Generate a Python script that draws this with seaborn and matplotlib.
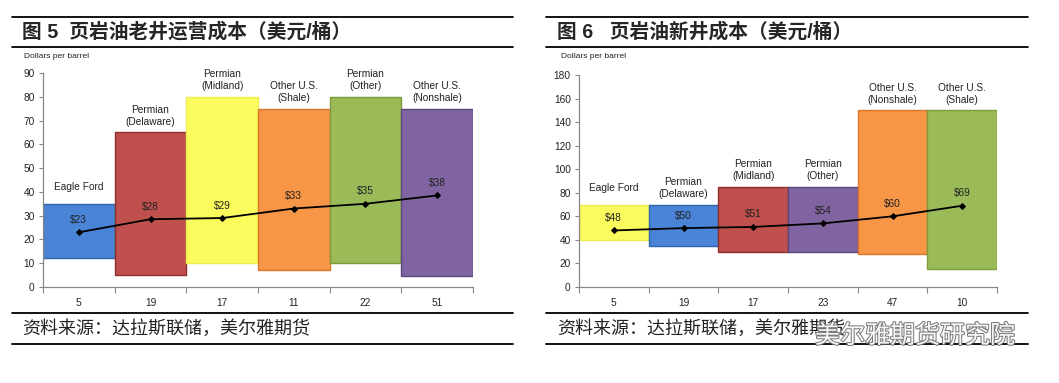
import matplotlib
matplotlib.use("Agg")
import matplotlib.pyplot as plt
import seaborn as sns
import pandas as pd
import numpy as np
from matplotlib.lines import Line2D
import matplotlib.patheffects as pe

# ---------------- data ----------------
left_title = "图 5  页岩油老井运营成本（美元/桶）"
left_names = ["Eagle Ford", "Permian\n(Delaware)", "Permian\n(Midland)",
              "Other U.S.\n(Shale)", "Permian\n(Other)", "Other U.S.\n(Nonshale)"]
left_low = [12, 5, 10, 7, 10, 4.5]
left_high = [35, 65, 80, 75, 80, 75]
left_avg = [23, 28.5, 29, 33, 35, 38.5]
left_avg_labels = ["$23", "$28", "$29", "$33", "$35", "$38"]
left_counts = ["5", "19", "17", "11", "22", "51"]

right_title = "图 6   页岩油新井成本（美元/桶）"
right_names = ["Eagle Ford", "Permian\n(Delaware)", "Permian\n(Midland)",
               "Permian\n(Other)", "Other U.S.\n(Nonshale)", "Other U.S.\n(Shale)"]
right_low = [40, 35, 30, 30, 28, 15]
right_high = [70, 70, 85, 85, 150, 150]
right_avg = [48, 50, 51, 54, 60, 69]
right_avg_labels = ["$48", "$50", "$51", "$54", "$60", "$69"]
right_counts = ["5", "19", "17", "23", "47", "10"]

source_text = "资料来源：达拉斯联储，美尔雅期货"
watermark_text = "美尔雅期货研究院"
unit_text = "Dollars per barrel"

# ---------------- style ----------------
BLUE, BLUE_E = "#4A84D6", "#2F64AE"
RED, RED_E = "#C0504D", "#8E2F2C"
YEL, YEL_E = "#FBFB5E", "#EDED50"
ORA, ORA_E = "#F79646", "#D9762C"
GRN, GRN_E = "#9BBB59", "#7C9C3C"
PUR, PUR_E = "#8064A2", "#5C4580"

left_colors = [BLUE, RED, YEL, ORA, GRN, PUR]
left_edges = [BLUE_E, RED_E, YEL_E, ORA_E, GRN_E, PUR_E]
right_colors = [YEL, BLUE, RED, PUR, ORA, GRN]
right_edges = [YEL_E, BLUE_E, RED_E, PUR_E, ORA_E, GRN_E]

sns.set_theme(style="white")
NARROW = ["Liberation Sans Narrow", "Liberation Sans", "DejaVu Sans"]
plt.rcParams["font.family"] = NARROW
plt.rcParams["axes.unicode_minus"] = False

W, H = 1059, 383
fig = plt.figure(figsize=(W / 100, H / 100), dpi=100)
fig.patch.set_facecolor("white")


def fx(px):
    return px / W


def fy(py):
    return 1 - py / H


def hrule(x0, x1, y):
    fig.add_artist(Line2D([fx(x0), fx(x1)], [fy(y), fy(y)], color="black", lw=1.3))


def draw(ax, names, low, high, avg, avg_labels, counts, colors, edges, ymax, ystep):
    n = len(names)
    df = pd.DataFrame({"pos": np.arange(n) + 0.5, "low": low, "high": high, "avg": avg})
    ax.bar(df["pos"], df["high"] - df["low"], bottom=df["low"], width=1.0,
           color=colors, edgecolor=edges, linewidth=1.0, zorder=2)
    sns.lineplot(data=df, x="pos", y="avg", ax=ax, color="black", linewidth=1.3,
                 marker="D", markersize=3.0, markeredgecolor="black", zorder=4)
    for p, h, name in zip(df["pos"], df["high"], names):
        ax.annotate(name, (p, h), xytext=(0, 12), textcoords="offset points",
                    ha="center", va="center", fontsize=7.3, linespacing=1.25,
                    color="#222222", zorder=5)
    for p, a, lab in zip(df["pos"], df["avg"], avg_labels):
        ax.annotate(lab, (p, a), xytext=(0, 9), textcoords="offset points",
                    ha="center", va="center", fontsize=7.3, color="#222222", zorder=5)
    ax.set_xlim(0, n)
    ax.set_ylim(0, ymax)
    ax.set_yticks(np.arange(0, ymax + 1, ystep))
    ax.set_xticks(np.arange(0, n + 1))
    ax.set_xticklabels([""] * (n + 1))
    ax.set_xticks(df["pos"], minor=True)
    ax.set_xticklabels(counts, minor=True)
    ax.tick_params(axis="x", which="major", direction="out", length=4, width=0.8,
                   color="#888888", bottom=True)
    ax.tick_params(axis="x", which="minor", length=0, pad=8, labelsize=7.3,
                   labelcolor="#222222", bottom=True)
    ax.tick_params(axis="y", direction="out", length=3, width=0.8, color="#888888",
                   left=True, labelsize=7.3, labelcolor="#222222", pad=3)
    ax.set_xlabel("")
    ax.set_ylabel("")
    for s in ["top", "right"]:
        ax.spines[s].set_visible(False)
    for s in ["left", "bottom"]:
        ax.spines[s].set_color("#888888")
        ax.spines[s].set_linewidth(0.9)
    ax.set_facecolor("white")
    ax.grid(False)


# left panel
axL = fig.add_axes([fx(43), fy(287), fx(473) - fx(43), fy(73) - fy(287)])
draw(axL, left_names, left_low, left_high, left_avg, left_avg_labels, left_counts,
     left_colors, left_edges, 90, 10)

# right panel
axR = fig.add_axes([fx(579), fy(287), fx(997) - fx(579), fy(75) - fy(287)])
draw(axR, right_names, right_low, right_high, right_avg, right_avg_labels, right_counts,
     right_colors, right_edges, 180, 20)

# rules
for x0, x1 in [(12, 513), (546, 1028)]:
    for y in [17, 47, 313, 344]:
        hrule(x0, x1, y)

TITLE_FONT = ["Liberation Sans", "Noto Sans CJK SC", "DejaVu Sans"]
CJK_FONT = ["Noto Sans CJK SC", "DejaVu Sans"]

fig.text(fx(22), fy(32), left_title, fontsize=14.2, fontweight="bold",
         family=TITLE_FONT, ha="left", va="center")
fig.text(fx(557), fy(32), right_title, fontsize=14.2, fontweight="bold",
         family=TITLE_FONT, ha="left", va="center")

fig.text(fx(24), fy(57), unit_text, fontsize=6, ha="left", va="center", color="#222222")
fig.text(fx(561), fy(57), unit_text, fontsize=6, ha="left", va="center", color="#222222")

fig.text(fx(22), fy(329), source_text, fontsize=13, family=CJK_FONT,
         ha="left", va="center", color="#222222")
fig.text(fx(557), fy(329), source_text, fontsize=13, family=CJK_FONT,
         ha="left", va="center", color="#222222")

wm = fig.text(fx(815), fy(336), watermark_text, fontsize=18, family=CJK_FONT,
              ha="left", va="center", color="white", alpha=0.95)
wm.set_path_effects([pe.withStroke(linewidth=1.5, foreground="#777777")])

fig.savefig("out.png", dpi=100, facecolor="white")
